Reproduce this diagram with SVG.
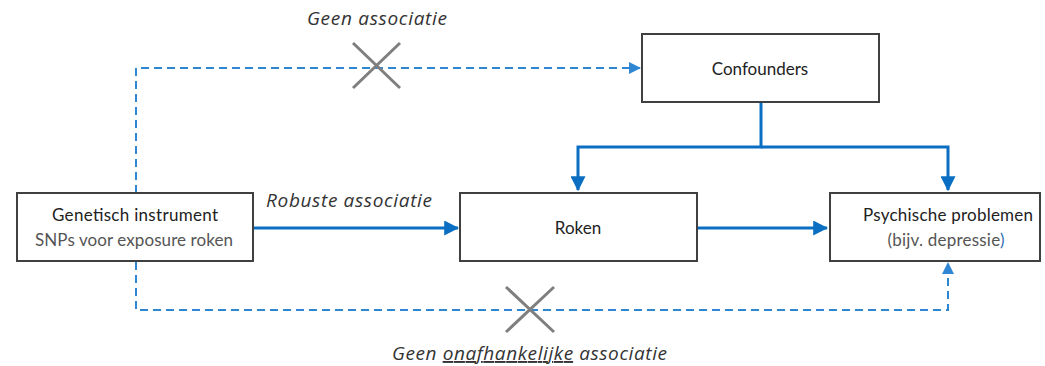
<svg xmlns="http://www.w3.org/2000/svg" width="1045" height="366" viewBox="0 0 1045 366">
<defs>
<style>
.box{fill:#fff;stroke:#404040;stroke-width:2}
.t{font-family:Lato,"Liberation Sans",sans-serif;font-size:17px;fill:#222;text-anchor:middle}
.t2{font-family:Lato,"Liberation Sans",sans-serif;font-size:17px;fill:#555;text-anchor:middle}
.lab{font-family:"Open Sans","Liberation Sans",sans-serif;font-style:italic;font-size:19px;fill:#333}
.solid{fill:none;stroke:#0a6fc2;stroke-width:3}
.dash{fill:none;stroke:#2f86d3;stroke-width:2;stroke-dasharray:8 5}
.x{stroke:#7f7f7f;stroke-width:3;fill:none}
</style>
<marker id="ah" markerWidth="5" markerHeight="5" refX="4.6" refY="2.5" orient="auto" markerUnits="strokeWidth"><path d="M0,0 L5,2.5 L0,5 Z" fill="#0a6fc2"/></marker>
<marker id="ahd" markerWidth="6" markerHeight="6" refX="5.5" refY="3" orient="auto" markerUnits="strokeWidth"><path d="M0,0 L6,3 L0,6 Z" fill="#2f86d3"/></marker>
</defs>
<g id="connectors">
<path class="dash" d="M136,193 V68 H640" marker-end="url(#ahd)"/>
<path class="dash" d="M136,262 V310 H948 V263" marker-end="url(#ahd)"/>
<path class="solid" d="M253,228 H458" marker-end="url(#ah)"/>
<path class="solid" d="M697,228 H827" marker-end="url(#ah)"/>
<path class="solid" d="M761,103 V147 H578 V190" marker-end="url(#ah)"/>
<path class="solid" d="M761,147 H948 V190" marker-end="url(#ah)"/>
</g>
<g id="cross-top"><path class="x" d="M353,43 L400,88 M400,43 L353,88"/></g>
<g id="cross-bottom"><path class="x" d="M506,287 L554,332 M554,287 L506,332"/></g>
<g id="label-top"><text class="lab" x="307" y="25" textLength="140" lengthAdjust="spacing">Geen associatie</text></g>
<g id="label-mid"><text class="lab" x="266" y="207" textLength="166" lengthAdjust="spacing">Robuste associatie</text></g>
<g id="label-bottom"><text class="lab" x="392" y="360" textLength="275" lengthAdjust="spacing">Geen <tspan text-decoration="underline">onafhankelijke</tspan> associatie</text></g>
<g id="node-genetisch">
<rect class="box" x="17" y="193" width="236" height="68"/>
<text class="t" x="135" y="221" textLength="166" lengthAdjust="spacing">Genetisch instrument</text>
<text class="t2" x="134" y="246" textLength="198" lengthAdjust="spacing">SNPs voor exposure roken</text>
</g>
<g id="node-confounders">
<rect class="box" x="642" y="34" width="237" height="68"/>
<text class="t" x="760" y="75">Confounders</text>
</g>
<g id="node-roken">
<rect class="box" x="460" y="193" width="237" height="68"/>
<text class="t" x="578" y="234">Roken</text>
</g>
<g id="node-psychische">
<rect class="box" x="830" y="193" width="210" height="68"/>
<text class="t" x="948" y="221" textLength="170" lengthAdjust="spacing">Psychische problemen</text>
<text class="t2" x="946" y="246" textLength="117" lengthAdjust="spacing">(bijv. depressie<tspan fill="#2f6fb0">)</tspan></text>
</g>
</svg>
